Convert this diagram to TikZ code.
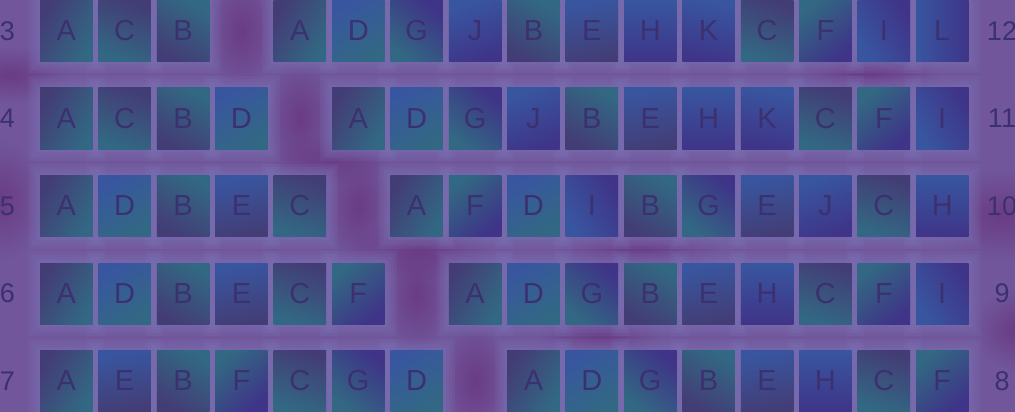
\documentclass[tikz,border=0pt]{standalone}
\usepackage{fontspec}
\setmainfont{Liberation Sans}
\usetikzlibrary{fadings}
\definecolor{bg}{HTML}{71569B}
\definecolor{mag}{HTML}{6A3C85}
\definecolor{halo}{HTML}{7C74B6}
\definecolor{sqdark}{HTML}{433D76}
\definecolor{sqteal}{HTML}{326883}
\definecolor{sqblue}{HTML}{3856A0}
\definecolor{sqind}{HTML}{3F3488}
\definecolor{ink}{HTML}{3C3170}
\tikzfading[name=fuzzy, inner color=transparent!0, outer color=transparent!100]
\tikzset{
  cell/.style={minimum width=52.5pt, minimum height=61pt, inner sep=0pt,
    font=\fontsize{29}{29}\selectfont, text=ink},
  num/.style={inner sep=0pt, font=\fontsize{27}{27}\selectfont, text=ink},
  shA/.style={top color=sqdark, bottom color=sqteal, shading angle=60},
  shB/.style={top color=sqteal, bottom color=sqdark, shading angle=-30},
  shC/.style={top color=sqdark, bottom color=sqteal, shading angle=-20},
  shD/.style={top color=sqblue, bottom color=sqteal, shading angle=30},
  shE/.style={top color=sqblue, bottom color=sqdark, shading angle=10},
  shF/.style={top color=sqteal, bottom color=sqind, shading angle=40},
  shG/.style={top color=sqind, bottom color=sqteal, shading angle=-40},
  shH/.style={top color=sqblue, bottom color=sqind, shading angle=0},
  shI/.style={top color=sqind, bottom color=sqblue, shading angle=-60},
  shJ/.style={top color=sqblue, bottom color=sqind, shading angle=20},
  shK/.style={top color=sqblue, bottom color=sqind, shading angle=-10},
  shL/.style={top color=sqind, bottom color=sqblue, shading angle=-90},
  blob/.style={mag, path fading=fuzzy},
  glow/.style={halo, opacity=0.16},
}
\begin{document}
\begin{tikzpicture}[x=1pt,y=-1pt]
\fill[bg] (0,0) rectangle (1015,412);
\useasboundingbox (0,0) rectangle (1015,412);
% magenta glows
\foreach \r in {0,...,4}{
  \pgfmathsetmacro{\gx}{66.25+58.4*(3+\r)}
  \pgfmathsetmacro{\gy}{31+87.5*\r}
  \fill[blob] (\gx,\gy) ellipse (34 and 60);
}
\fill[blob] (0,200) ellipse (45 and 60);
\fill[blob] (10,75) ellipse (60 and 28);
\fill[blob] (420,250) ellipse (70 and 30);
\fill[blob] (640,250) ellipse (80 and 28);
\fill[blob] (1000,215) ellipse (70 and 45);
\fill[blob] (870,75) ellipse (70 and 25);
\fill[blob] (600,335) ellipse (60 and 28);
\fill[blob] (330,160) ellipse (60 and 25);
\fill[blob] (1015,330) ellipse (40 and 40);
% soft halos behind the cells
\foreach \r in {0,...,4}{
  \pgfmathtruncatemacro{\nl}{3+\r}
  \pgfmathsetmacro{\yc}{31+87.5*\r}
  \foreach \c in {0,...,15}{
    \pgfmathtruncatemacro{\skip}{\c==\nl ? 1 : 0}
    \ifnum\skip=0
      \pgfmathsetmacro{\xc}{66.25+58.4*\c}
      \foreach \e in {3,6,9,12}{
        \fill[glow] (\xc-26.25-\e,\yc-30.5-\e) rectangle (\xc+26.25+\e,\yc+30.5+\e);
      }
    \fi
  }
}
% cells
\foreach \r/\lefts/\rights/\ln/\rn in {
  0/{A,C,B}/{A,D,G,J,B,E,H,K,C,F,I,L}/3/12,
  1/{A,C,B,D}/{A,D,G,J,B,E,H,K,C,F,I}/4/11,
  2/{A,D,B,E,C}/{A,F,D,I,B,G,E,J,C,H}/5/10,
  3/{A,D,B,E,C,F}/{A,D,G,B,E,H,C,F,I}/6/9,
  4/{A,E,B,F,C,G,D}/{A,D,G,B,E,H,C,F}/7/8}{
  \pgfmathsetmacro{\yc}{31+87.5*\r}
  \node[num] (numL\r) at (7.5,\yc) {\ln};
  \node[num] (numR\r) at (1002,\yc) {\rn};
  \foreach \l [count=\i from 0] in \lefts{
    \pgfmathsetmacro{\xc}{66.25+58.4*\i}
    \node[cell, sh\l] (L\r-\i) at (\xc,\yc) {\l};
  }
  \foreach \l [count=\i from 0] in \rights{
    \pgfmathsetmacro{\xc}{66.25+58.4*(\i+\ln+1)}
    \node[cell, sh\l] (R\r-\i) at (\xc,\yc) {\l};
  }
}
\end{tikzpicture}
\end{document}
